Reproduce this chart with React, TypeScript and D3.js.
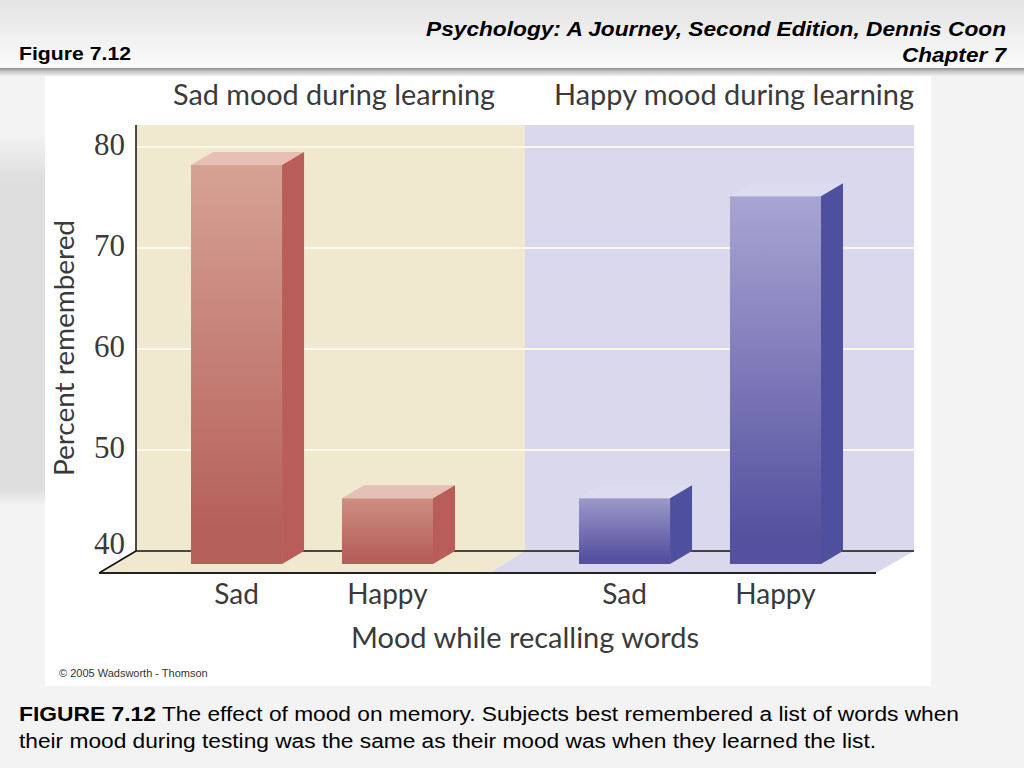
import * as d3 from "d3";

const moods = ["Sad", "Happy"];
const panelTitles = ["Sad mood during learning", "Happy mood during learning"];
const sadLearning = [79.5, 46.5];
const happyLearning = [46.5, 76.4];
const yTicks = [40, 50, 60, 70, 80];

const DEPTH_X = 22;
const DEPTH_Y = 13;
const SANS = "Lato, 'Open Sans', sans-serif";
const NUMS = "'Liberation Serif', serif";
const ARIAL = "'Liberation Sans', Arial, sans-serif";
const INK = "#3a3a3a";

const y = d3.scaleLinear().domain([40, 80]).range([551, 147]);
// tick numbers sit a little off the gridlines in the original, the 40 most of all
const yLabel = d3.scaleLinear().domain([40, 50, 80]).range([554, 458, 155]);
const xSad = d3.scaleBand().domain(moods).range([191, 433]).paddingInner(0.397);
const xHappy = d3.scaleBand().domain(moods).range([579, 821]).paddingInner(0.397);

const panels = [
  { id: "red", values: sadLearning, x: xSad, side: "#b85d58", top: "#e6bfb5", from: "#d6a294", to: "#b55f5a", shortFrom: "#cd8e80" },
  { id: "blue", values: happyLearning, x: xHappy, side: "#4f4f9f", top: "#dddbee", from: "#a8a5d3", to: "#55519f", shortFrom: "#9c99c9" },
];

const poly = (pts: [number, number][]) => d3.line()(pts) + "Z";

const App = () => {
  const base = y(40);
  return (
    <svg width={1024} height={768} style={{ position: "absolute", left: 0, top: 0 }}>
      <defs>
        <linearGradient id="header" x1="0" x2="0" y1="0" y2="1">
          <stop offset="0" stopColor="#e3e3e3" />
          <stop offset="1" stopColor="#fbfbfb" />
        </linearGradient>
        <linearGradient id="shadow" x1="0" x2="0" y1="0" y2="1">
          <stop offset="0" stopColor="#8a8a8a" />
          <stop offset="0.4" stopColor="#c4c4c4" />
          <stop offset="1" stopColor="#f0f0f0" />
        </linearGradient>
        <linearGradient id="leftBand" x1="0" x2="0" y1="0" y2="1">
          <stop offset="0" stopColor="#f3f3f3" />
          <stop offset="0.12" stopColor="#dedede" />
          <stop offset="0.96" stopColor="#dedede" />
          <stop offset="1" stopColor="#f3f3f3" />
        </linearGradient>
        {panels.map((p) =>
          p.values.map((v, i) => (
            <linearGradient key={p.id + i} id={`${p.id}${i}`} x1="0" x2="0" y1="0" y2="1">
              <stop offset="0" stopColor={v > 60 ? p.from : p.shortFrom} />
              <stop offset="0.92" stopColor={p.to} />
            </linearGradient>
          ))
        )}
      </defs>

      {/* slide background */}
      <rect width={1024} height={768} fill="#f3f3f3" />
      <rect x={0} y={135} width={45} height={370} fill="url(#leftBand)" />
      <rect width={1024} height={68} fill="url(#header)" />
      <rect y={68} width={1024} height={8} fill="url(#shadow)" />

      <text x={19} y={60} fontFamily={ARIAL} fontWeight={700} fontSize={18.5} fill="#000" textLength={112} lengthAdjust="spacingAndGlyphs">Figure 7.12</text>
      <text x={426} y={36} fontFamily={ARIAL} fontWeight={700} fontStyle="italic" fontSize={20} fill="#000" textLength={580} lengthAdjust="spacingAndGlyphs">
        Psychology: A Journey, Second Edition, Dennis Coon
      </text>
      <text x={902} y={62} fontFamily={ARIAL} fontWeight={700} fontStyle="italic" fontSize={20} fill="#000" textLength={104} lengthAdjust="spacingAndGlyphs">Chapter 7</text>

      {/* figure card */}
      <rect x={45} y={76} width={886} height={610} fill="#fff" />

      {/* back wall and floor */}
      <rect x={136} y={125} width={389} height={426} fill="#f0e9cf" />
      <rect x={525} y={125} width={389} height={426} fill="#dad8ec" />
      <path d={poly([[136, base], [525, base], [489, 573], [99, 573]])} fill="#f0e9cf" />
      <path d={poly([[525, base], [914, base], [876, 573], [489, 573]])} fill="#dad8ec" />

      {yTicks.filter((t) => t > 40).map((t) => (
        <line key={t} x1={136} x2={914} y1={y(t)} y2={y(t)} stroke="#fbf8ee" strokeWidth={2} />
      ))}

      <line x1={136} x2={136} y1={125} y2={base} stroke="#111" strokeWidth={1.5} />
      <line x1={136} x2={914} y1={base} y2={base} stroke="#111" strokeWidth={1.5} />
      <line x1={136} x2={99} y1={base} y2={573} stroke="#111" strokeWidth={1.5} />
      <line x1={99} x2={876} y1={573} y2={573} stroke="#222" strokeWidth={1.8} />

      {/* bars */}
      {panels.map((p) =>
        p.values.map((v, i) => {
          const x0 = p.x(moods[i]) as number;
          const w = p.x.bandwidth();
          const top = y(v) + DEPTH_Y;
          const bottom = base + DEPTH_Y;
          return (
            <g key={p.id + i}>
              <path d={poly([[x0, top], [x0 + DEPTH_X, top - DEPTH_Y], [x0 + w + DEPTH_X, top - DEPTH_Y], [x0 + w, top]])} fill={p.top} />
              <path d={poly([[x0 + w, top], [x0 + w + DEPTH_X, top - DEPTH_Y], [x0 + w + DEPTH_X, bottom - DEPTH_Y], [x0 + w, bottom]])} fill={p.side} />
              <rect x={x0} y={top} width={w} height={bottom - top} fill={`url(#${p.id}${i})`} />
            </g>
          );
        })
      )}

      {/* labels */}
      <g fontFamily={SANS} fontWeight={400} fill={INK}>
        {panelTitles.map((t, i) => (
          <text key={t} x={i === 0 ? 173 : 554} y={105} fontSize={28} textLength={i === 0 ? 322 : 360} lengthAdjust="spacingAndGlyphs">{t}</text>
        ))}
        {yTicks.map((t) => (
          <text key={t} x={125} y={yLabel(t)} textAnchor="end" fontFamily={NUMS} fontSize={32} textLength={31} lengthAdjust="spacingAndGlyphs">{t}</text>
        ))}
        <text transform="translate(74,348) rotate(-90)" textAnchor="middle" fontSize={27} textLength={256} lengthAdjust="spacingAndGlyphs">Percent remembered</text>
        {panels.map((p) =>
          moods.map((m) => (
            <text key={p.id + m} x={(p.x(m) as number) + p.x.bandwidth() / 2} y={604} textAnchor="middle" fontSize={28}>{m}</text>
          ))
        )}
        <text x={351} y={648} fontSize={28} textLength={348} lengthAdjust="spacingAndGlyphs">Mood while recalling words</text>
      </g>
      <text x={59} y={677} fontFamily={ARIAL} fontSize={11} fill="#333">© 2005 Wadsworth - Thomson</text>

      <text x={19} y={721} fontFamily={ARIAL} fontWeight={700} fontSize={20} fill="#000" textLength={137} lengthAdjust="spacingAndGlyphs">FIGURE 7.12</text>
      <text x={162} y={721} fontFamily={ARIAL} fontSize={20} fill="#000" textLength={797} lengthAdjust="spacingAndGlyphs">
        The effect of mood on memory. Subjects best remembered a list of words when
      </text>
      <text x={19} y={748} fontFamily={ARIAL} fontSize={20} fill="#000" textLength={857} lengthAdjust="spacingAndGlyphs">
        their mood during testing was the same as their mood was when they learned the list.
      </text>
    </svg>
  );
};

export default App;
